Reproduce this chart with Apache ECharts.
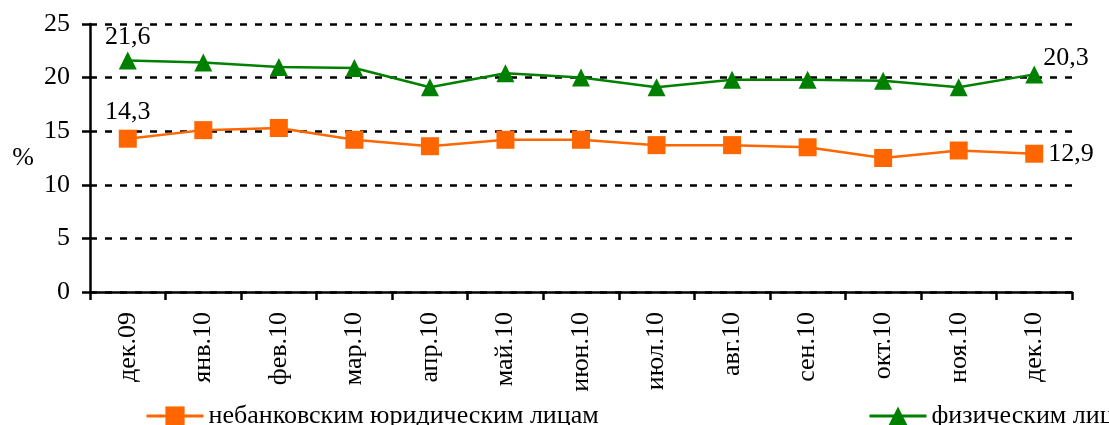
<!DOCTYPE html>
<html><head><meta charset="utf-8">
<script src="https://cdn.jsdelivr.net/npm/echarts@6/dist/echarts.min.js"></script>
<style>html,body{margin:0;padding:0;background:#fff}#c{width:1109px;height:425px}</style>
</head><body><div id="c"></div>
<script>
var categories = ['дек.09','янв.10','фев.10','мар.10','апр.10','май.10','июн.10','июл.10','авг.10','сен.10','окт.10','ноя.10','дек.10'];
var legalEntities = [14.3, 15.1, 15.3, 14.2, 13.6, 14.2, 14.2, 13.7, 13.7, 13.5, 12.5, 13.2, 12.9];
var individuals = [21.6, 21.4, 21.0, 20.9, 19.1, 20.4, 20.0, 19.1, 19.8, 19.8, 19.7, 19.1, 20.3];
var seriesNames = ['небанковским юридическим лицам', 'физическим лицам'];
var yTicks = [0, 5, 10, 15, 20, 25];

var FONT = '"Liberation Serif", "DejaVu Serif", serif';
var FS = 26;
function withLabels(arr, firstPos, lastPos) {
  return arr.map(function (v, i) {
    var lbl = { show: false };
    if (i === 0) lbl = { show: true, position: firstPos.pos, offset: firstPos.off };
    if (i === arr.length - 1) lbl = { show: true, position: lastPos.pos, offset: lastPos.off };
    return { value: v, label: lbl };
  });
}
function fmt(p) { return String(p.value).replace('.', ','); }
var chart = echarts.init(document.getElementById('c'));
chart.setOption({
  animation: false,
  backgroundColor: '#fff',
  textStyle: { fontFamily: FONT },
  grid: { left: 90, right: 37, top: 24, bottom: 133 },
  legend: [
    { data: [seriesNames[0]], left: 140, top: 398, itemWidth: 57, itemHeight: 24, itemGap: 4,
      lineStyle: { width: 3 },
      textStyle: { fontFamily: FONT, fontSize: FS, color: '#000' } },
    { data: [seriesNames[1]], left: 863, top: 398, itemWidth: 57, itemHeight: 24, itemGap: 4,
      lineStyle: { width: 3 },
      textStyle: { fontFamily: FONT, fontSize: FS, color: '#000' } }
  ],
  xAxis: {
    type: 'category', data: categories, boundaryGap: true,
    axisLine: { lineStyle: { color: '#000', width: 2.5 } },
    axisTick: { show: true, length: 8, lineStyle: { color: '#000', width: 2.5 } },
    axisLabel: { rotate: 90, fontFamily: FONT, fontSize: FS, color: '#000', margin: 20, interval: 0 }
  },
  yAxis: {
    type: 'value', min: yTicks[0], max: yTicks[yTicks.length - 1], interval: 5,
    name: '%', nameLocation: 'middle', nameRotate: 0, nameGap: 56,
    nameTextStyle: { fontFamily: FONT, fontSize: FS, color: '#000', padding: [6, 0, 0, 0] },
    axisLine: { show: true, lineStyle: { color: '#000', width: 2.5 } },
    axisTick: { show: true, length: 8, lineStyle: { color: '#000', width: 2.5 } },
    axisLabel: { fontFamily: FONT, fontSize: FS, color: '#000', margin: 20 },
    splitLine: { show: true, lineStyle: { color: '#000', width: 2.5, type: [7, 8] } }
  },
  series: [
    {
      name: seriesNames[0], type: 'line', data: withLabels(legalEntities, {pos: 'top', off: [0, 0]}, {pos: 'right', off: [0, 0]}),
      symbol: 'rect', symbolSize: 18,
      itemStyle: { color: '#ff6600' }, lineStyle: { color: '#ff6600', width: 2.5 },
      label: { fontFamily: FONT, fontSize: FS, color: '#000', formatter: fmt }
    },
    {
      name: seriesNames[1], type: 'line', data: withLabels(individuals, {pos: 'top', off: [0, 4]}, {pos: 'right', off: [-5, -16]}),
      symbol: 'triangle', symbolSize: 18,
      itemStyle: { color: '#008000' }, lineStyle: { color: '#008000', width: 2.5 },
      label: { fontFamily: FONT, fontSize: FS, color: '#000', formatter: fmt }
    }
  ]
});
</script></body></html>
